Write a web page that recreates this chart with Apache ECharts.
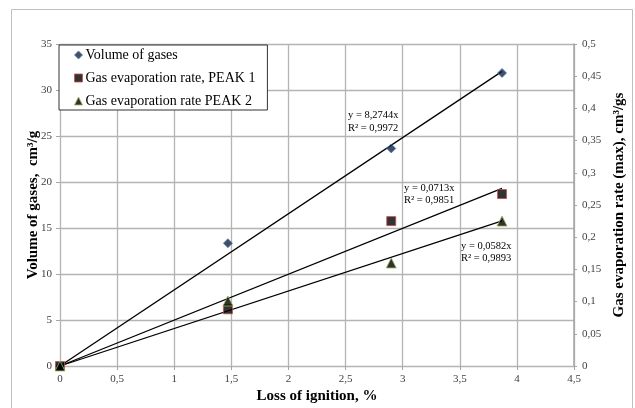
<!DOCTYPE html>
<html lang="en">
<head>
    <meta charset="UTF-8">
    <title>gas-evaporation</title>
    <script src="https://cdn.jsdelivr.net/npm/echarts@6.0.0/dist/echarts.min.js"></script>
    <style>
        html, body { margin: 0; padding: 0; background: #fff; }
    </style>
</head>
<body>
    <div id="main" style="width: 635px;height:408px;"></div>

    <script>
        // data
        var lossOfIgnition = [0, 1.47, 2.9, 3.87];
        var volumeOfGases = [0, 13.35, 23.65, 31.85];
        var peak1Rate = [0, 0.088, 0.225, 0.267];
        var peak2Rate = [0, 0.101, 0.160, 0.225];
        // trendline slopes printed on the chart
        var trendSlopes = [8.2744, 0.0713, 0.0582];
        var trendR2 = ['0,9972', '0,9851', '0,9893'];
        var trendEndX = 3.87;

        var serif = '"Liberation Serif", "DejaVu Serif", serif';

        function pairs(xs, ys) {
            return xs.map(function (x, i) { return [x, ys[i]]; });
        }
        function trend(k) {
            return [[0, 0], [trendEndX, k * trendEndX]];
        }
        function comma(v) {
            return String(v).replace('.', ',');
        }
        function trendText(i) {
            return 'y = ' + comma(trendSlopes[i]) + 'x\nR² = ' + trendR2[i];
        }

        var myChart = echarts.init(document.getElementById('main'));

        var option = {
            animation: false,
            backgroundColor: '#fff',
            textStyle: { fontFamily: serif },
            grid: { left: 60, right: 61, top: 44, bottom: 42, outerBoundsMode: 'none', containLabel: false },
            legend: {
                orient: 'vertical',
                left: 59,
                top: 45,
                padding: [2, 12, 1, 15],
                itemGap: 7,
                itemWidth: 8,
                itemHeight: 8,
                itemStyle: { borderWidth: 1 },
                backgroundColor: '#fff',
                borderColor: '#333',
                borderWidth: 1,
                textStyle: { fontFamily: serif, fontSize: 14, lineHeight: 16, color: '#000', padding: [0, 0, 0, -2] },
                data: [
                    { name: 'Volume of gases', icon: 'diamond' },
                    { name: 'Gas evaporation rate, PEAK 1', icon: 'rect' },
                    { name: 'Gas evaporation rate PEAK 2', icon: 'triangle' }
                ]
            },
            xAxis: {
                type: 'value',
                min: 0,
                max: 4.5,
                interval: 0.5,
                name: 'Loss of ignition, %',
                nameLocation: 'middle',
                nameGap: 23,
                nameMoveOverlap: false,
                nameTextStyle: { fontFamily: serif, fontSize: 15, fontWeight: 'bold', color: '#000' },
                axisLine: { show: false },
                axisTick: { show: true, length: 4, lineStyle: { color: '#a6a6a6' } },
                axisLabel: { fontFamily: serif, fontSize: 11, color: '#404040', margin: 8, formatter: comma },
                splitLine: { show: true, lineStyle: { color: '#b4b4b4', width: 1.3 } }
            },
            yAxis: [
                {
                    type: 'value',
                    min: 0,
                    max: 35,
                    interval: 5,
                    name: 'Volume of gases,  cm³/g',
                    nameLocation: 'middle',
                    nameGap: 19,
                    nameMoveOverlap: false,
                    nameTextStyle: { fontFamily: serif, fontSize: 15, fontWeight: 'bold', color: '#000' },
                    axisLine: { show: false },
                    axisTick: { show: true, length: 4, lineStyle: { color: '#a6a6a6' } },
                    axisLabel: { fontFamily: serif, fontSize: 11, color: '#404040', margin: 8 },
                    splitLine: { show: true, lineStyle: { color: '#b4b4b4', width: 1.3 } }
                },
                {
                    type: 'value',
                    position: 'right',
                    min: 0,
                    max: 0.5,
                    interval: 0.05,
                    name: 'Gas evaporation rate (max), cm³/gs',
                    nameLocation: 'middle',
                    nameGap: 38,
                    nameMoveOverlap: false,
                    nameRotate: 90,
                    nameTextStyle: { fontFamily: serif, fontSize: 15, fontWeight: 'bold', color: '#000' },
                    axisLine: { show: true, lineStyle: { color: '#a6a6a6', width: 1.5 } },
                    axisTick: { show: true, length: 3, lineStyle: { color: '#a6a6a6' } },
                    axisLabel: {
                        fontFamily: serif, fontSize: 11, color: '#404040', margin: 8,
                        formatter: function (v) { return comma(Math.round(v * 100) / 100); }
                    },
                    splitLine: { show: false }
                }
            ],
            series: [
                {
                    name: 'trend volume',
                    type: 'line',
                    yAxisIndex: 0,
                    data: trend(trendSlopes[0]),
                    symbol: 'none',
                    silent: true,
                    lineStyle: { color: '#000', width: 1.3 },
                    z: 3
                },
                {
                    name: 'trend peak 1',
                    type: 'line',
                    yAxisIndex: 1,
                    data: trend(trendSlopes[1]),
                    symbol: 'none',
                    silent: true,
                    lineStyle: { color: '#000', width: 1.3 },
                    z: 3
                },
                {
                    name: 'trend peak 2',
                    type: 'line',
                    yAxisIndex: 1,
                    data: trend(trendSlopes[2]),
                    symbol: 'none',
                    silent: true,
                    lineStyle: { color: '#000', width: 1.3 },
                    z: 3
                },
                {
                    name: 'Volume of gases',
                    type: 'scatter',
                    yAxisIndex: 0,
                    data: pairs(lossOfIgnition, volumeOfGases),
                    symbol: 'diamond',
                    symbolSize: 9,
                    itemStyle: { color: '#14233f', borderColor: '#4f81bd', borderWidth: 1 },
                    z: 4
                },
                {
                    name: 'Gas evaporation rate, PEAK 1',
                    type: 'scatter',
                    yAxisIndex: 1,
                    data: pairs(lossOfIgnition, peak1Rate),
                    symbol: 'rect',
                    symbolSize: 9,
                    itemStyle: { color: '#000', borderColor: '#c0504d', borderWidth: 1 },
                    z: 4
                },
                {
                    name: 'Gas evaporation rate PEAK 2',
                    type: 'scatter',
                    yAxisIndex: 1,
                    data: pairs(lossOfIgnition, peak2Rate),
                    symbol: 'triangle',
                    symbolSize: 10,
                    itemStyle: { color: '#000', borderColor: '#9bbb59', borderWidth: 1 },
                    z: 5
                }
            ],
            graphic: [
                {
                    type: 'rect',
                    silent: true,
                    shape: { x: 11.5, y: 9.5, width: 621, height: 420 },
                    style: { fill: 'none', stroke: '#bfbfbf', lineWidth: 1 }
                },
                {
                    type: 'text', left: 348, top: 109, silent: true,
                    style: { text: trendText(0), font: '10.5px ' + serif, lineHeight: 12.5, fill: '#000' }
                },
                {
                    type: 'text', left: 404, top: 182, silent: true,
                    style: { text: trendText(1), font: '10.5px ' + serif, lineHeight: 12, fill: '#000' }
                },
                {
                    type: 'text', left: 461, top: 240, silent: true,
                    style: { text: trendText(2), font: '10.5px ' + serif, lineHeight: 12, fill: '#000' }
                }
            ]
        };

        myChart.setOption(option);
    </script>
</body>
</html>
